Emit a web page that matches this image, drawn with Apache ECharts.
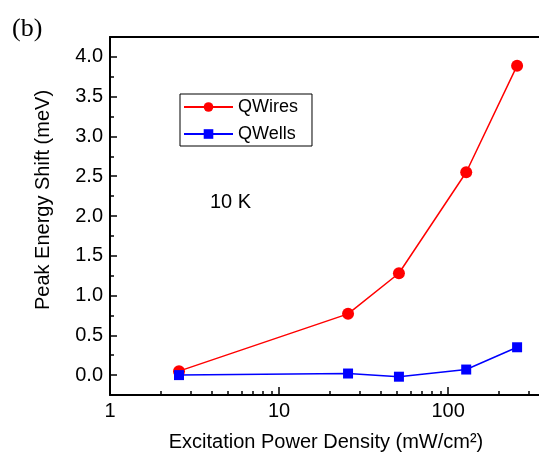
<!DOCTYPE html>
<html lang="en">

<head>
    <meta charset="UTF-8">
    <title>Peak Energy Shift</title>
    <style>
        html,
        body {
            margin: 0;
            padding: 0;
            background: #fff;
        }

        #main {
            width: 539px;
            height: 462px;
        }
    </style>
    <script src="https://cdn.jsdelivr.net/npm/echarts@6/dist/echarts.min.js"></script>
</head>

<body>
    <div id="main"></div>
    <script>
        // data
        const power = [2.56, 25.6, 51.2, 128, 256];
        const wires = [0.05, 0.77, 1.28, 2.55, 3.89];
        const wells = [0.00, 0.02, -0.02, 0.07, 0.35];

        const yMajor = [0, 0.5, 1, 1.5, 2, 2.5, 3, 3.5, 4];
        const yMinor = [-0.25, 0.25, 0.75, 1.25, 1.75, 2.25, 2.75, 3.25, 3.75, 4.25];
        const xMajor = [1, 10, 100];
        const xMinor = [2, 3, 4, 5, 6, 7, 8, 9, 20, 30, 40, 50, 60, 70, 80, 90, 200, 300];

        // the figure is cropped on the right, axis ends near 345
        const xMin = 1, xMax = 345;

        const font = 'Liberation Sans, Arial, sans-serif';
        const chart = echarts.init(document.getElementById('main'));

        function pairs(xs, ys) {
            return xs.map((x, i) => [x, ys[i]]);
        }

        const option = {
            animation: false,
            grid: {
                left: 110,
                top: 37,
                bottom: 67,
                right: 0
            },
            legend: {
                orient: 'vertical',
                left: 180,
                top: 94,
                padding: [4, 14, 3, 3],
                itemWidth: 49,
                itemHeight: 12,
                itemGap: 9,
                borderColor: '#000',
                borderWidth: 1,
                textStyle: { fontFamily: font, fontSize: 18, color: '#000' },
                data: ['QWires', 'QWells']
            },
            xAxis: [
                {
                    type: 'log',
                    min: xMin,
                    max: xMax,
                    axisLine: { onZero: false, lineStyle: { color: '#000', width: 2 } },
                    axisTick: { inside: true, length: 8, customValues: xMajor, lineStyle: { color: '#000', width: 1.5 } },
                    axisLabel: { customValues: xMajor, fontFamily: font, fontSize: 20, color: '#000', margin: 6 },
                    splitLine: { show: false }
                },
                {
                    type: 'log',
                    min: xMin,
                    max: xMax,
                    position: 'bottom',
                    axisLine: { show: false, onZero: false },
                    axisTick: { inside: true, length: 4, customValues: xMinor, lineStyle: { color: '#000', width: 1.5 } },
                    axisLabel: { show: false },
                    splitLine: { show: false }
                },
                {
                    type: 'log',
                    min: xMin,
                    max: xMax,
                    position: 'top',
                    axisLine: { show: true, onZero: false, lineStyle: { color: '#000', width: 2 } },
                    axisTick: { show: false },
                    axisLabel: { show: false },
                    splitLine: { show: false }
                }
            ],
            yAxis: [
                {
                    type: 'value',
                    min: -0.25,
                    max: 4.25,
                    axisLine: { show: true, onZero: false, lineStyle: { color: '#000', width: 2 } },
                    axisTick: { show: true, inside: true, length: 7, customValues: yMajor, lineStyle: { color: '#000', width: 1.5 } },
                    axisLabel: {
                        customValues: yMajor,
                        formatter: (v) => v.toFixed(1),
                        fontFamily: font, fontSize: 20, color: '#000', margin: 7
                    },
                    splitLine: { show: false }
                },
                {
                    type: 'value',
                    min: -0.25,
                    max: 4.25,
                    position: 'left',
                    axisLine: { show: false, onZero: false },
                    axisTick: { show: true, inside: true, length: 4, customValues: yMinor, lineStyle: { color: '#000', width: 1.5 } },
                    axisLabel: { show: false },
                    splitLine: { show: false }
                }
            ],
            graphic: [
                {
                    type: 'text', left: 12, top: 16,
                    style: { text: '(b)', font: '26px "Liberation Serif", "Times New Roman", serif', fill: '#000' }
                },
                {
                    type: 'text', left: 210, top: 192,
                    style: { text: '10 K', font: '20px ' + font, fill: '#000' }
                },
                {
                    type: 'text', x: 43, y: 200, rotation: Math.PI / 2,
                    style: {
                        text: 'Peak Energy Shift (meV)', font: '20px ' + font, fill: '#000',
                        align: 'center', verticalAlign: 'middle'
                    }
                },
                {
                    type: 'text', x: 326, y: 442,
                    style: {
                        text: 'Excitation Power Density (mW/cm²)', font: '20px ' + font, fill: '#000',
                        align: 'center', verticalAlign: 'middle'
                    }
                }
            ],
            series: [
                {
                    name: 'QWires',
                    type: 'line',
                    data: pairs(power, wires),
                    symbol: 'circle',
                    symbolSize: 12,
                    color: '#ff0000',
                    lineStyle: { color: '#ff0000', width: 1.5 }
                },
                {
                    name: 'QWells',
                    type: 'line',
                    data: pairs(power, wells),
                    symbol: 'rect',
                    symbolSize: 10,
                    color: '#0000ff',
                    lineStyle: { color: '#0000ff', width: 1.5 }
                }
            ]
        };

        chart.setOption(option);
    </script>
</body>

</html>
